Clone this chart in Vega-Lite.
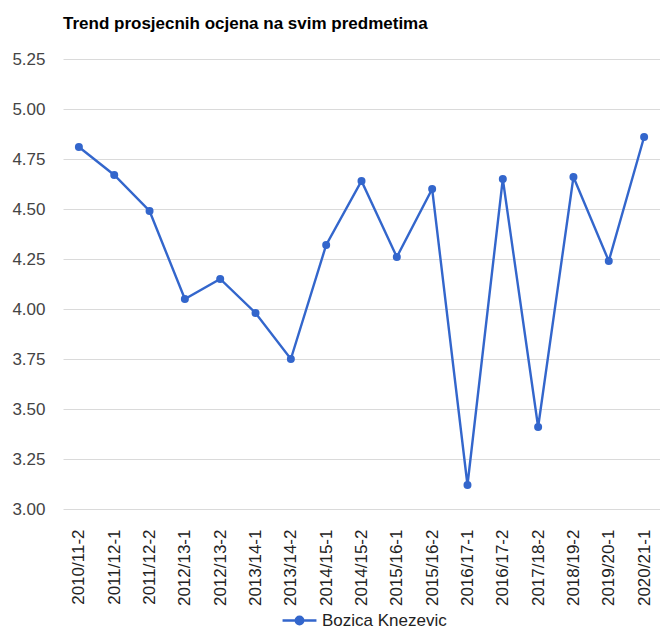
{
  "$schema": "https://vega.github.io/schema/vega-lite/v6.json",
  "width": 597,
  "height": 450,
  "autosize": {"type": "none"},
  "padding": {"left": 63, "top": 59, "right": 0, "bottom": 122},
  "background": "white",
  "title": {
    "text": "Trend prosjecnih ocjena na svim predmetima",
    "anchor": "start",
    "frame": "group",
    "font": "Liberation Sans",
    "fontSize": 17,
    "fontWeight": "bold",
    "color": "#000000",
    "offset": 17
  },
  "config": {
    "view": {"stroke": null},
    "font": "Liberation Sans"
  },
  "data": {
    "values": [
      {"period": "2010/11-2", "grade": 4.81, "name": "Bozica Knezevic"},
      {"period": "2011/12-1", "grade": 4.67, "name": "Bozica Knezevic"},
      {"period": "2011/12-2", "grade": 4.49, "name": "Bozica Knezevic"},
      {"period": "2012/13-1", "grade": 4.05, "name": "Bozica Knezevic"},
      {"period": "2012/13-2", "grade": 4.15, "name": "Bozica Knezevic"},
      {"period": "2013/14-1", "grade": 3.98, "name": "Bozica Knezevic"},
      {"period": "2013/14-2", "grade": 3.75, "name": "Bozica Knezevic"},
      {"period": "2014/15-1", "grade": 4.32, "name": "Bozica Knezevic"},
      {"period": "2014/15-2", "grade": 4.64, "name": "Bozica Knezevic"},
      {"period": "2015/16-1", "grade": 4.26, "name": "Bozica Knezevic"},
      {"period": "2015/16-2", "grade": 4.60, "name": "Bozica Knezevic"},
      {"period": "2016/17-1", "grade": 3.12, "name": "Bozica Knezevic"},
      {"period": "2016/17-2", "grade": 4.65, "name": "Bozica Knezevic"},
      {"period": "2017/18-2", "grade": 3.41, "name": "Bozica Knezevic"},
      {"period": "2018/19-2", "grade": 4.66, "name": "Bozica Knezevic"},
      {"period": "2019/20-1", "grade": 4.24, "name": "Bozica Knezevic"},
      {"period": "2020/21-1", "grade": 4.86, "name": "Bozica Knezevic"}
    ]
  },
  "mark": {
    "type": "line",
    "strokeWidth": 2.4,
    "point": {"filled": true, "size": 64}
  },
  "encoding": {
    "x": {
      "field": "period",
      "type": "ordinal",
      "sort": null,
      "scale": {"type": "point", "padding": 0.45},
      "axis": {
        "title": null,
        "labelAngle": -90,
        "labelAlign": "right",
        "labelBaseline": "middle",
        "labelPadding": 20,
        "ticks": false,
        "domain": false,
        "labelFontSize": 17,
        "labelColor": "#222222",
        "labelFont": "Liberation Sans"
      }
    },
    "y": {
      "field": "grade",
      "type": "quantitative",
      "scale": {"domain": [3, 5.25], "nice": false, "zero": false},
      "axis": {
        "title": null,
        "values": [3, 3.25, 3.5, 3.75, 4, 4.25, 4.5, 4.75, 5, 5.25],
        "format": ".2f",
        "ticks": false,
        "domain": false,
        "labelPadding": 18,
        "labelFontSize": 17,
        "labelColor": "#444444",
        "labelFont": "Liberation Sans",
        "gridColor": "#dadada",
        "gridWidth": 1
      }
    },
    "color": {
      "field": "name",
      "type": "nominal",
      "scale": {"range": ["#3366cc"]},
      "legend": {
        "title": null,
        "orient": "none",
        "legendX": 218,
        "legendY": 543,
        "symbolType": "M-1,0H1M-0.22,0A0.22,0.22 0 1,1 0.22,0A0.22,0.22 0 1,1 -0.22,0",
        "symbolSize": 1150,
        "symbolStrokeWidth": 2.4,
        "symbolFillColor": "#3366cc",
        "symbolStrokeColor": "#3366cc",
        "labelFontSize": 17,
        "labelColor": "#222222",
        "labelFont": "Liberation Sans",
        "labelOffset": 4
      }
    }
  }
}
